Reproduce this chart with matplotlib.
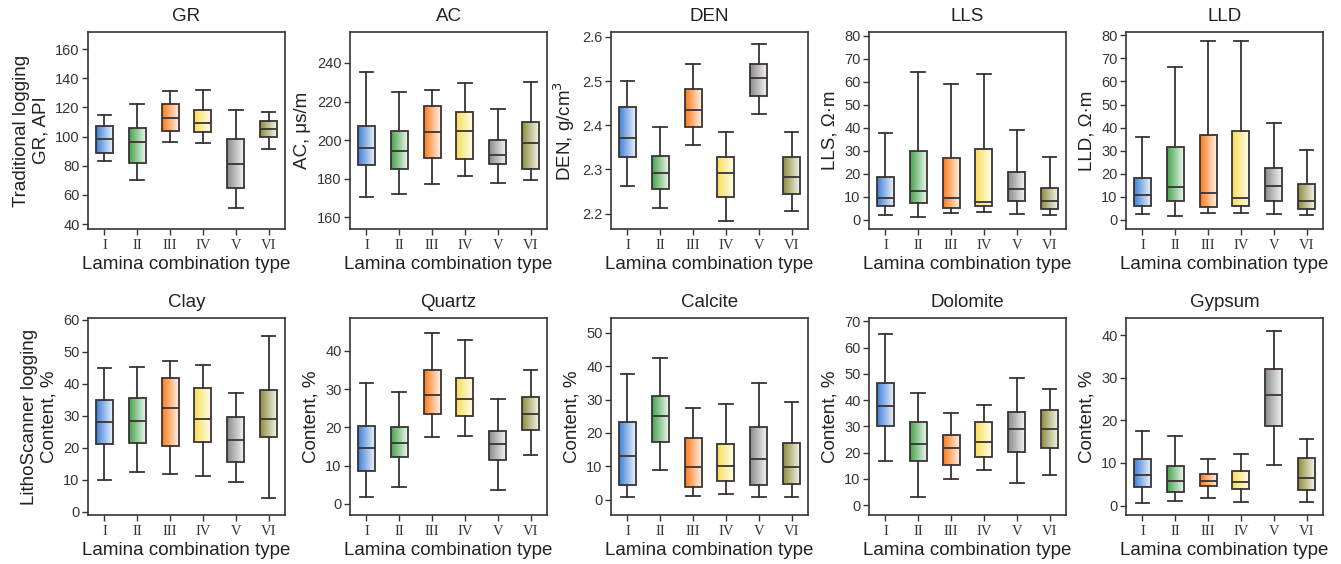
import numpy as np
import matplotlib
matplotlib.use("Agg")
import matplotlib.pyplot as plt
from matplotlib.colors import LinearSegmentedColormap

plt.rcParams['font.family'] = ['Liberation Sans', 'DejaVu Sans']

types = ['I', 'II', 'III', 'IV', 'V', 'VI']
colors = ['#3f7fd6', '#45a34c', '#ff7a1a', '#f7df55', '#8a8a8a', '#8c8c3c']
edge = '#3a3333'

# box stats per type: (whislo, q1, median, q3, whishi)
gr = [(83.5, 88.5, 98, 107.5, 115), (70.5, 82, 96, 106, 122.5), (96.5, 103.5, 112.5, 122, 131),
      (95.5, 103.3, 109, 118.2, 132), (51, 65, 81, 98, 118.5), (91.5, 100, 105, 110.5, 117)]
ac = [(170.8, 187, 195.9, 207.1, 235.5), (172, 185, 194.6, 205, 225), (177.5, 190.9, 204.4, 217.9, 226.2),
      (181.3, 190.2, 204.7, 214.7, 229.8), (178, 187.5, 192.4, 199.9, 216), (179.4, 185.3, 198.5, 209.6, 230)]
den = [(2.262, 2.327, 2.37, 2.441, 2.501), (2.212, 2.256, 2.291, 2.331, 2.397), (2.355, 2.395, 2.435, 2.481, 2.539),
       (2.184, 2.237, 2.291, 2.327, 2.385), (2.425, 2.467, 2.506, 2.539, 2.583), (2.205, 2.245, 2.283, 2.328, 2.385)]
lls = [(1.9, 5.8, 9.5, 18.6, 37.8), (1.2, 7.3, 12.5, 30, 64.1), (3, 5.2, 9.2, 27, 58.9),
       (3.2, 5.8, 7.6, 30.8, 63.4), (2.6, 7.9, 13.1, 20.5, 39), (2.2, 4.8, 8, 13.7, 27.3)]
lld = [(2.5, 5.9, 10.7, 18.3, 36.1), (1.6, 8.1, 14.3, 31.6, 66.2), (3, 5.7, 11.9, 36.8, 77.4),
       (3.2, 6.1, 9.7, 38.6, 77.5), (2.5, 8.4, 14.6, 22.3, 42.2), (2, 4.9, 8.4, 15.4, 30.3)]
clay = [(9.9, 21.1, 28.2, 35.1, 45.1), (12.3, 21.5, 28.3, 35.5, 45.3), (11.7, 20.6, 32.4, 41.8, 47.3),
        (11.1, 21.7, 28.9, 38.8, 45.8), (9.4, 15.5, 22.4, 29.6, 37.3), (4.2, 23.3, 29.1, 38.1, 54.9)]
quartz = [(1.7, 8.7, 14.7, 20.4, 31.5), (4.4, 12.3, 16, 20, 29.2), (17.6, 23.5, 28.6, 35, 44.7),
          (17.7, 23, 27.5, 33, 42.9), (3.7, 11.4, 15.7, 19, 27.5), (12.9, 19.2, 23.6, 28, 35)]
calcite = [(0.7, 4.3, 13.2, 23.4, 37.7), (8.9, 17.2, 25, 31, 42.4), (1.2, 3.7, 9.8, 18.4, 27.5),
           (1.6, 5.7, 10.1, 16.8, 28.6), (0.7, 4.3, 12.1, 21.7, 35), (0.7, 4.7, 9.9, 17.1, 29.4)]
dolomite = [(16.9, 30.2, 37.6, 46.7, 65.3), (3, 16.9, 23.3, 31.7, 42.8), (10, 15.4, 21.6, 26.6, 35),
            (13.5, 18.3, 23.9, 31.7, 38.2), (8.5, 20.2, 28.8, 35.6, 48.5), (11.5, 21.8, 28.8, 36.4, 44.1)]
gypsum = [(0.7, 4.3, 7.1, 11, 17.4), (1, 3.1, 5.8, 9.4, 16.4), (1.8, 4.5, 5.8, 7.4, 10.9),
          (0.9, 4, 5.5, 8.2, 12.1), (9.5, 18.7, 26, 32, 41), (0.8, 3.6, 6.5, 11.1, 15.7)]

panels = [
    ('GR', 'Traditional logging\nGR, API', gr, (36.6, 171.7), np.arange(40, 161, 20)),
    ('AC', 'AC, μs/m', ac, (154, 256), np.arange(160, 241, 20)),
    ('DEN', 'DEN, g/cm$^3$', den, (2.165, 2.611), [2.2, 2.3, 2.4, 2.5, 2.6]),
    ('LLS', 'LLS, Ω·m', lls, (-4.1, 81.6), np.arange(0, 81, 10)),
    ('LLD', 'LLD, Ω·m', lld, (-3.9, 81.4), np.arange(0, 81, 10)),
    ('Clay', 'LithoScanner logging\nContent, %', clay, (-1.0, 60.6), np.arange(0, 61, 10)),
    ('Quartz', 'Content, %', quartz, (-2.9, 48.6), np.arange(0, 41, 10)),
    ('Calcite', 'Content, %', calcite, (-4.6, 54.5), np.arange(0, 51, 10)),
    ('Dolomite', 'Content, %', dolomite, (-3.8, 71.3), np.arange(0, 71, 10)),
    ('Gypsum', 'Content, %', gypsum, (-2.2, 44), np.arange(0, 41, 10)),
]

W, H = 1341, 564
fig = plt.figure(figsize=(W / 100, H / 100), dpi=100)
lefts = [88, 350, 611, 869, 1126]
aw, ah = 197, 197
tops = [32, 318]

grad = np.linspace(0, 1, 64).reshape(1, -1)

for k, (title, ylab, data, ylim, yt) in enumerate(panels):
    row, col = divmod(k, 5)
    ax = fig.add_axes([lefts[col] / W, 1 - (tops[row] + ah) / H, aw / W, ah / H])
    stats = [dict(whislo=s[0], q1=s[1], med=s[2], q3=s[3], whishi=s[4], fliers=[]) for s in data]
    bp = ax.bxp(stats, positions=range(1, 7), widths=0.52, patch_artist=True, showfliers=False,
                boxprops=dict(edgecolor=edge, linewidth=1.3, facecolor='none'),
                medianprops=dict(color=edge, linewidth=1.3),
                whiskerprops=dict(color=edge, linewidth=1.3),
                capprops=dict(color=edge, linewidth=1.3), capwidths=0.42)
    # horizontal colour-to-white gradient inside each box
    for i, (patch, c, s) in enumerate(zip(bp['boxes'], colors, data)):
        cmap = LinearSegmentedColormap.from_list('g', [c, '#ffffff'])
        im = ax.imshow(grad, cmap=cmap, aspect='auto', vmin=0, vmax=1.05,
                       extent=(i + 1 - 0.26, i + 1 + 0.26, s[1], s[3]), zorder=1.5,
                       interpolation='bilinear')
        im.set_clip_path(patch)
    ax.set_xlim(0.5, 6.5)
    ax.set_ylim(*ylim)
    ax.set_yticks(yt)
    ax.set_xticks(range(1, 7))
    ax.set_xticklabels(types, family=['Liberation Serif'], fontsize=10.5)
    ax.tick_params(axis='y', labelsize=10.5, colors=edge, length=4, width=1, pad=2)
    ax.tick_params(axis='x', colors=edge, length=4, width=1, pad=3)
    for sp in ax.spines.values():
        sp.set_color(edge)
        sp.set_linewidth(1.2)
    ax.set_title(title, fontsize=13.5, pad=8, color='#222222')
    ax.set_xlabel('Lamina combination type', fontsize=13.5, color='#222222', labelpad=3)
    ax.set_ylabel(ylab, fontsize=13.5, color='#222222', labelpad=4)

fig.savefig('out.png', dpi=100)
